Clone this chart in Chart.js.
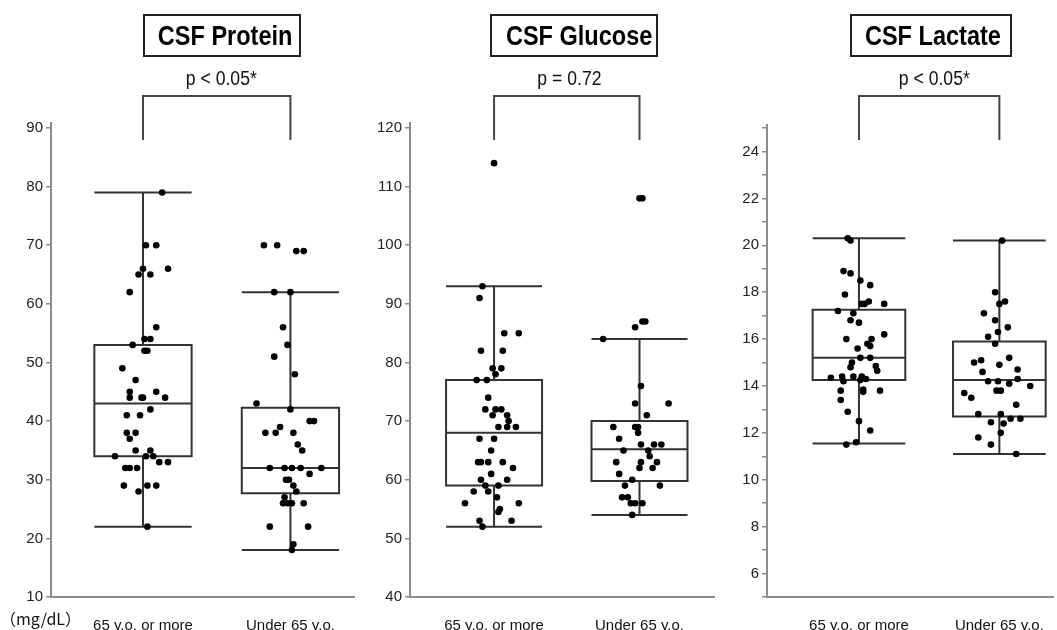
<!DOCTYPE html>
<html>
<head>
<meta charset="utf-8">
<script src="https://cdn.jsdelivr.net/npm/chart.js@4.4.1/dist/chart.umd.min.js"></script>
<style>
	body { margin: 0; background: #fff; }
	#lienzo { position: relative; width: 1057px; height: 630px; overflow: hidden; }
	#lienzo canvas { position: absolute; top: 0; }
	.titulo {
		position: absolute; top: 14px; height: 43px; box-sizing: border-box;
		border: 2px solid #222; text-align: center; line-height: 39px; white-space: nowrap;
		font-family: "Liberation Sans", Arial, sans-serif;
		font-weight: bold; font-size: 28px; color: #000;
	}
	.pvalor {
		position: absolute; top: 66px; width: 140px; text-align: center; line-height: 24px; white-space: nowrap;
		font-family: "Liberation Sans", Arial, sans-serif;
		font-size: 20px; color: #111;
	}
	.titulo span, .pvalor span { display: inline-block; transform-origin: center; }
	.titulo span { transform: scaleX(0.84); }
	.pvalor span { transform: scaleX(0.88); }
	.unidad {
		position: absolute; left: 0; top: 607px; line-height: 22px; white-space: nowrap;
		font-family: "Noto Sans CJK JP", sans-serif; font-size: 16px; color: #111;
	}
</style>
</head>
<body>
<div id="lienzo">
	<canvas id="graficoProteina" width="358" height="630" style="left:0px"></canvas>
	<canvas id="graficoGlucosa" width="358" height="630" style="left:360px"></canvas>
	<canvas id="graficoLactato" width="339" height="630" style="left:718px"></canvas>
	<div class="titulo" style="left:143px;width:158px"><span>CSF Protein</span></div>
	<div class="titulo" style="left:490px;width:168px"><span>CSF Glucose</span></div>
	<div class="titulo" style="left:850px;width:162px"><span>CSF Lactate</span></div>
	<div class="pvalor" style="left:151px"><span>p &lt; 0.05*</span></div>
	<div class="pvalor" style="left:499px"><span>p = 0.72</span></div>
	<div class="pvalor" style="left:864px"><span>p &lt; 0.05*</span></div>
	<div class="unidad">（mg/dL）</div>
</div>
<script>
// Datos: valores individuales, desplazamiento horizontal (jitter) y cajas
const categorias = ['65 y.o. or more', 'Under 65 y.o.'];

// CSF Protein
const proteina65 = [79,70,70,66,66,65,65,62,56,54,54,53,52,52,49,47,45,45,44,44,44,44,42,41,41,38,38,37,35,35,34,34,34,33,33,32,32,32,29,29,29,28,22];
const proteina65Jitter = [0.13,0.02,0.09,0,0.17,-0.03,0.05,-0.09,0.09,0.01,0.05,-0.07,0.01,0.03,-0.14,-0.05,-0.09,0.09,-0.09,-0.01,0,0.15,0.05,-0.11,-0.02,-0.11,-0.05,-0.09,-0.05,0.05,-0.19,0.02,0.07,0.11,0.17,-0.12,-0.09,-0.04,-0.13,0.03,0.09,-0.03,0.03];
const proteinaMenor = [70,70,69,69,62,62,56,53,51,48,43,42,40,40,39,38,38,38,36,35,32,32,32,32,32,31,30,30,29,28,27,26,26,26,26,22,22,19,18];
const proteinaMenorJitter = [-0.18,-0.09,0.04,0.09,-0.11,0,-0.05,-0.02,-0.11,0.03,-0.23,0,0.13,0.16,-0.07,-0.17,-0.10,0.02,0.05,0.08,-0.14,-0.04,0.01,0.07,0.21,0.13,-0.03,-0.01,0.02,0.04,-0.04,-0.05,-0.02,0.01,0.09,-0.14,0.12,0.02,0.01];
const cajaProteina65 = [22, 34, 43, 53, 79];       // min, Q1, mediana, Q3, max
const cajaProteinaMenor = [18, 27.7, 32, 42.3, 62];

// CSF Glucose
const glucosa65 = [114,93,91,85,85,82,82,79,79,78,77,77,74,72,72,72,71,71,70,69,69,69,67,67,65,63,63,63,63,62,61,60,60,59,59,58,58,57,56,56,55,54.5,53,53,52];
const glucosa65Jitter = [0,-0.08,-0.10,0.07,0.17,-0.09,0.06,-0.01,0.05,0.01,-0.12,-0.05,-0.04,-0.06,0.01,0.05,-0.01,0.09,0.10,0.03,0.09,0.15,-0.10,0,-0.02,-0.11,-0.09,-0.04,0.06,0.13,-0.02,-0.09,0.09,-0.06,0.03,-0.14,-0.04,0.02,-0.20,0.17,0.04,0.03,-0.10,0.12,-0.08];
const glucosaMenor = [108,108,87,87,86,84,76,73,73,71,69,69,69,68,67,66,66,66,65,65,64,63,63,63,62,62,61,60,59,59,57,57,56,56,56,54];
const glucosaMenorJitter = [0,0.02,0.02,0.04,-0.03,-0.25,0.01,-0.03,0.20,0.05,-0.18,-0.03,-0.01,-0.01,-0.14,0.01,0.10,0.15,-0.11,0.06,0.07,-0.16,0.01,0.12,0,0.09,-0.14,-0.05,-0.10,0.14,-0.12,-0.08,-0.06,-0.03,0.02,-0.05];
const cajaGlucosa65 = [52, 59, 68, 77, 93];
const cajaGlucosaMenor = [54, 59.8, 65.2, 70, 84];

// CSF Lactate
const lactato65 = [20.3,20.2,18.9,18.8,18.5,18.3,17.9,17.5,17.5,17.6,17.5,17.2,17.1,16.8,16.7,16.2,16.0,16.0,15.8,15.7,15.6,15.2,15.2,15.0,14.8,14.85,14.65,14.35,14.4,14.2,14.4,14.4,14.25,14.3,13.8,13.85,13.75,13.8,13.4,12.9,12.5,12.1,11.5,11.6];
const lactato65Jitter = [-0.08,-0.06,-0.11,-0.06,0.01,0.08,-0.10,0.02,0.04,0.07,0.18,-0.15,-0.04,-0.06,0,0.18,-0.09,0.09,0.06,0.08,-0.01,0.01,0.08,-0.05,-0.06,0.12,0.13,-0.20,-0.12,-0.11,-0.04,0.02,0.01,0.05,-0.13,0.03,0.03,0.15,-0.13,-0.08,0,0.08,-0.09,-0.02];
const lactatoMenor = [20.2,18.0,17.5,17.6,17.1,16.8,16.5,16.3,16.1,15.8,15.0,15.1,15.2,14.9,14.6,14.7,14.2,14.2,14.1,14.3,14.0,13.7,13.5,13.8,13.8,13.2,12.8,12.8,12.45,12.4,12.6,12.6,12.0,11.8,11.5,11.1];
const lactatoMenorJitter = [0.02,-0.03,0,0.04,-0.11,-0.03,0.06,-0.01,-0.08,-0.03,-0.18,-0.13,0.07,0,-0.12,0.13,-0.08,-0.01,0.07,0.13,0.22,-0.25,-0.20,-0.02,0.01,0.12,-0.15,0.01,-0.06,0.03,0.08,0.15,0.01,-0.15,-0.06,0.12];
const cajaLactato65 = [11.55, 14.25, 15.2, 17.25, 20.3];
const cajaLactatoMenor = [11.1, 12.7, 14.25, 15.9, 20.2];

const colorEje = '#8c8c8c';
const colorLinea = '#333';
const fuenteTicks = { family: '"Liberation Sans", Arial, sans-serif', size: 15 };

// Dibuja cajas, bigotes y el corchete usando las escalas del gráfico
const pluginCajas = {
	id: 'cajas',
	beforeDatasetsDraw(chart, args, opts) {
		const { ctx, scales: { x, y } } = chart;
		ctx.save();
		ctx.strokeStyle = colorLinea;
		ctx.lineWidth = 2;
		opts.datos.forEach((c, i) => {
			const pos = i + 1;
			const xi = x.getPixelForValue(pos - opts.mitadAncho);
			const xd = x.getPixelForValue(pos + opts.mitadAncho);
			const xc = x.getPixelForValue(pos);
			const [min, q1, med, q3, max] = c.map(v => y.getPixelForValue(v));
			ctx.beginPath();
			ctx.moveTo(xc, q3); ctx.lineTo(xc, max);
			ctx.moveTo(xc, q1); ctx.lineTo(xc, min);
			ctx.moveTo(xi, max); ctx.lineTo(xd, max);
			ctx.moveTo(xi, min); ctx.lineTo(xd, min);
			ctx.moveTo(xi, med); ctx.lineTo(xd, med);
			ctx.rect(xi, q3, xd - xi, q1 - q3);
			ctx.stroke();
		});
		// corchete de comparación entre grupos
		const x1 = x.getPixelForValue(1), x2 = x.getPixelForValue(2);
		ctx.strokeStyle = '#444';
		ctx.beginPath();
		ctx.moveTo(x1, opts.corcheteAbajo);
		ctx.lineTo(x1, opts.corcheteArriba);
		ctx.lineTo(x2, opts.corcheteArriba);
		ctx.lineTo(x2, opts.corcheteAbajo);
		ctx.stroke();
		ctx.restore();
	}
};

function puntos(valores, jitter, pos) {
	return valores.map((v, i) => ({ x: pos + jitter[i], y: v }));
}

function crearPanel(id, grupos, cajas, cfg) {
	new Chart(document.getElementById(id), {
		type: 'scatter',
		data: {
			datasets: grupos.map(g => ({
				data: g,
				backgroundColor: '#000',
				borderWidth: 0,
				pointRadius: 3.3,
				pointHoverRadius: 3.3
			}))
		},
		options: {
			responsive: false,
			animation: false,
			events: [],
			layout: { padding: { top: cfg.arriba, left: 0, right: 0, bottom: 0 } },
			plugins: {
				legend: { display: false },
				tooltip: { enabled: false },
				cajas: { datos: cajas, mitadAncho: 0.33, corcheteArriba: 96, corcheteAbajo: 140 }
			},
			scales: {
				x: {
					type: 'linear', min: cfg.xMin, max: cfg.xMax,
					grid: { display: false },
					border: { display: true, color: colorEje, width: 2 },
					afterBuildTicks: s => { s.ticks = [{ value: 1 }, { value: 2 }]; },
					afterFit: s => { s.height = 33; },
					ticks: { callback: v => categorias[v - 1], maxRotation: 0, autoSkip: false, padding: 12, color: '#111', font: fuenteTicks }
				},
				y: {
					min: cfg.yMin, max: cfg.yMax,
					afterFit: s => { s.width = cfg.anchoEje; },
					grid: { display: true, drawOnChartArea: false, drawTicks: true, tickLength: 5, color: colorEje, lineWidth: 1.5 },
					border: { display: true, color: colorEje, width: 2 },
					ticks: { stepSize: cfg.paso, includeBounds: false, padding: 3, color: '#222', font: fuenteTicks, callback: cfg.etiqueta }
				}
			}
		},
		plugins: [pluginCajas]
	});
}

crearPanel('graficoProteina',
	[puntos(proteina65, proteina65Jitter, 1), puntos(proteinaMenor, proteinaMenorJitter, 2)],
	[cajaProteina65, cajaProteinaMenor],
	{ arriba: 123, xMin: 0.376, xMax: 2.436, yMin: 10, yMax: 90.85, paso: 10, anchoEje: 51, etiqueta: v => v });

crearPanel('graficoGlucosa',
	[puntos(glucosa65, glucosa65Jitter, 1), puntos(glucosaMenor, glucosaMenorJitter, 2)],
	[cajaGlucosa65, cajaGlucosaMenor],
	{ arriba: 123, xMin: 0.422, xMax: 2.517, yMin: 40, yMax: 120.85, paso: 10, anchoEje: 50, etiqueta: v => v });

crearPanel('graficoLactato',
	[puntos(lactato65, lactato65Jitter, 1), puntos(lactatoMenor, lactatoMenorJitter, 2)],
	[cajaLactato65, cajaLactatoMenor],
	{ arriba: 125, xMin: 0.345, xMax: 2.387, yMin: 5, yMax: 25.13, paso: 1, anchoEje: 49, etiqueta: v => (v % 2 === 0 ? v : '') });
</script>
</body>
</html>
